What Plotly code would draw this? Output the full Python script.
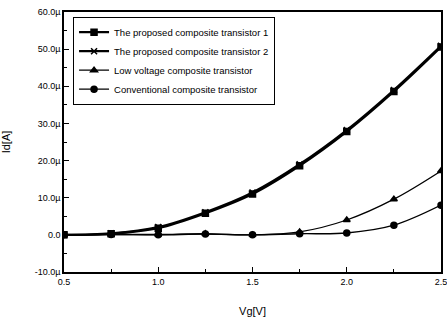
import plotly.graph_objects as go

vg = [0.5, 0.75, 1.0, 1.25, 1.5, 1.75, 2.0, 2.25, 2.5]
proposed1 = [0.0, 0.3, 1.8, 5.8, 11.0, 18.6, 27.8, 38.6, 50.6]
proposed2 = [0.0, 0.4, 2.1, 6.1, 11.4, 19.0, 28.2, 39.0, 50.9]
low_voltage = [0.0, 0.1, 0.1, 0.3, 0.0, 0.8, 4.0, 9.6, 17.2]
conventional = [0.0, 0.1, 0.0, 0.2, 0.0, 0.3, 0.5, 2.6, 8.0]

names = ["The proposed composite transistor 1", "The proposed composite transistor 2",
         "Low voltage composite transistor", "Conventional composite transistor"]
symbols = ["square", "x-thin-open", "triangle-up", "circle"]
widths = [2.2, 2.2, 1.3, 1.3]

ytick_vals = [-10, 0, 10, 20, 30, 40, 50, 60]
ytick_text = ["-10.0µ", "0.0", "10.0µ", "20.0µ", "30.0µ", "40.0µ", "50.0µ", "60.0µ"]
xtick_vals = [0.5, 1.0, 1.5, 2.0, 2.5]
xtick_text = ["0.5", "1.0", "1.5", "2.0", "2.5"]

fig = go.Figure()
for name, ys, sym, w in zip(names, [proposed1, proposed2, low_voltage, conventional], symbols, widths):
    fig.add_trace(go.Scatter(
        x=vg, y=ys, name=name, mode="lines+markers", line=dict(color="black", width=w, shape="spline"),
        marker=dict(symbol=sym, size=6, color="black", line=dict(color="black", width=1.5)),
    ))

font = "Liberation Sans, Arial"
axis_common = dict(showline=True, linecolor="black", linewidth=1.5, mirror=True, ticks="inside",
                   tickcolor="black", ticklen=5, showgrid=False, zeroline=False, automargin=False,
                   ticklabeloverflow="allow",
                   tickfont=dict(family=font, size=9, color="black"))
fig.update_xaxes(range=[0.5, 2.5], tickvals=xtick_vals, ticktext=xtick_text,
                 minor=dict(ticks="inside", ticklen=3, tickcolor="black", dtick=0.25),
                 title=dict(text="Vg[V]", font=dict(family=font, size=11, color="black"), standoff=22),
                 **axis_common)
fig.update_yaxes(range=[-10, 60], tickvals=ytick_vals, ticktext=ytick_text,
                 minor=dict(ticks="inside", ticklen=3, tickcolor="black", dtick=5),
                 title=dict(text="Id[A]", font=dict(family=font, size=11, color="black"), standoff=22),
                 **axis_common)
fig.update_layout(
    width=447, height=323, margin=dict(l=64, r=6, t=12, b=51, autoexpand=False),
    paper_bgcolor="white", plot_bgcolor="white",
    legend=dict(x=0.024, y=0.982, xanchor="left", yanchor="top", bordercolor="black", borderwidth=1,
                bgcolor="white", font=dict(family=font, size=9.5, color="black"),
                tracegroupgap=0, itemwidth=30),
)
fig.write_html("out.html", config={"displayModeBar": False},
               post_script="document.body.style.margin='0';document.body.style.overflow='hidden';")
